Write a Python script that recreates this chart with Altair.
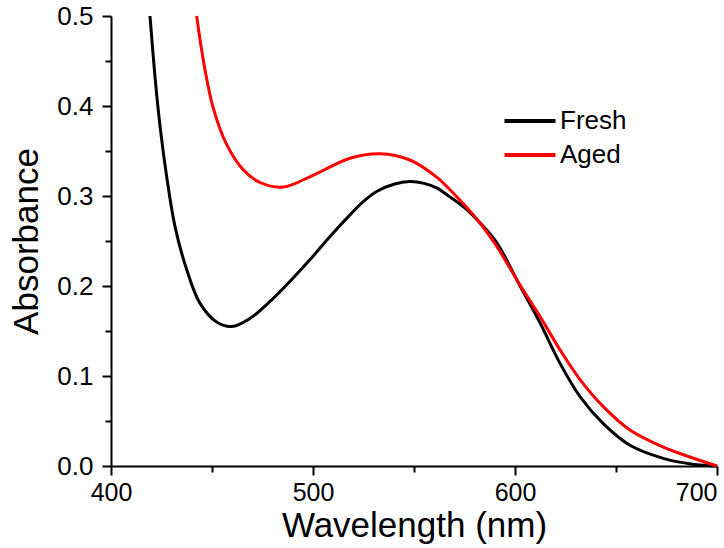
import altair as alt
import pandas as pd

# Fresh sample
fresh_wl = [419.3, 421.8, 424.3, 427.6, 431.7, 437.5, 444.0, 452.3, 459.7, 468.8,
            482.0, 498.0, 508.0, 518.3, 525.0, 531.5, 540.0, 548.0, 555.0, 561.2,
            567.8, 575.0, 582.7, 591.0, 602.5, 612.4, 622.3, 632.2, 643.7, 656.9,
            673.4, 688.0, 700.0]
fresh_abs = [0.500, 0.432, 0.377, 0.321, 0.266, 0.218, 0.181, 0.160, 0.155, 0.164,
             0.190, 0.228, 0.254, 0.279, 0.294, 0.305, 0.313, 0.316, 0.314, 0.309,
             0.299, 0.287, 0.270, 0.248, 0.200, 0.159, 0.114, 0.077, 0.047, 0.023,
             0.0085, 0.002, 0.0]

# Aged sample
aged_wl = [442.4, 445.7, 450.6, 457.3, 465.5, 473.8, 485.3, 500.0, 518.3, 533.2,
           548.0, 561.2, 567.8, 575.0, 582.7, 591.0, 602.5, 612.4, 622.3, 632.2,
           643.7, 656.9, 673.4, 686.6, 700.0]
aged_abs = [0.500, 0.451, 0.398, 0.357, 0.329, 0.315, 0.310, 0.323, 0.342, 0.347,
            0.340, 0.321, 0.307, 0.290, 0.270, 0.244, 0.201, 0.166, 0.129, 0.096,
            0.066, 0.040, 0.021, 0.010, 0.0]

series_names = ["Fresh", "Aged"]
series_colors = ["#000000", "#ff0000"]

x_major = [400, 500, 600, 700]
x_minor = [450, 550, 650]
y_major = [0.0, 0.1, 0.2, 0.3, 0.4, 0.5]
y_minor = [0.05, 0.15, 0.25, 0.35, 0.45]

df = pd.concat([
    pd.DataFrame({"wavelength": fresh_wl, "absorbance": fresh_abs, "sample": "Fresh"}),
    pd.DataFrame({"wavelength": aged_wl, "absorbance": aged_abs, "sample": "Aged"}),
], ignore_index=True)

FONT = "Liberation Sans"
xscale = alt.Scale(domain=[400, 700], nice=False, zero=False)
yscale = alt.Scale(domain=[0, 0.5], nice=False)

main = alt.Chart(df).mark_line(strokeWidth=3, interpolate="catmull-rom").encode(
    x=alt.X("wavelength:Q", scale=xscale,
            axis=alt.Axis(values=x_major, title="Wavelength (nm)", grid=False,
                          orient="bottom", tickSize=9, tickWidth=2, domainWidth=2,
                          labelFontSize=25, titleFontSize=35, titleFontWeight="normal",
                          labelPadding=5, titlePadding=3, labelFlush=False,
                          labelAlign={"condition": {"test": "datum.value >= 700", "value": "right"},
                                      "value": "center"})),
    y=alt.Y("absorbance:Q", scale=yscale,
            axis=alt.Axis(values=y_major, format=".1f", title="Absorbance", grid=False,
                          orient="left", tickSize=9, tickWidth=2, domainWidth=2,
                          labelFontSize=26, titleFontSize=35, titleFontWeight="normal",
                          labelPadding=9, titlePadding=12)),
    color=alt.Color("sample:N",
                    scale=alt.Scale(domain=series_names, range=series_colors),
                    legend=alt.Legend(title=None, orient="none", legendX=400, legendY=86,
                                      symbolType="M-1.5,0L1.5,0", symbolSize=1156,
                                      symbolStrokeWidth=4, labelFontSize=26,
                                      labelOffset=11, rowPadding=2, padding=0)),
    order=alt.Order("wavelength:Q"),
)

minor = alt.Chart(df).mark_line(strokeOpacity=0).encode(
    x=alt.X("wavelength:Q", scale=xscale,
            axis=alt.Axis(values=x_minor, labels=False, domain=False, title=None,
                          grid=False, orient="bottom", tickSize=6, tickWidth=2)),
    y=alt.Y("absorbance:Q", scale=yscale,
            axis=alt.Axis(values=y_minor, labels=False, domain=False, title=None,
                          grid=False, orient="left", tickSize=6, tickWidth=2)),
    detail="sample:N",
)

chart = alt.layer(main, minor).resolve_axis(x="independent", y="independent").properties(
    width=606, height=450,
    autosize=alt.AutoSizeParams(type="none"),
    padding={"left": 111, "top": 16, "right": 7, "bottom": 82},
).configure_view(stroke=None).configure_axis(
    labelFont=FONT, titleFont=FONT, labelColor="black", titleColor="black",
    domainColor="black", tickColor="black",
).configure_legend(labelFont=FONT, labelColor="black")

chart.save("out.html", embed_options={"renderer": "svg", "actions": False})
